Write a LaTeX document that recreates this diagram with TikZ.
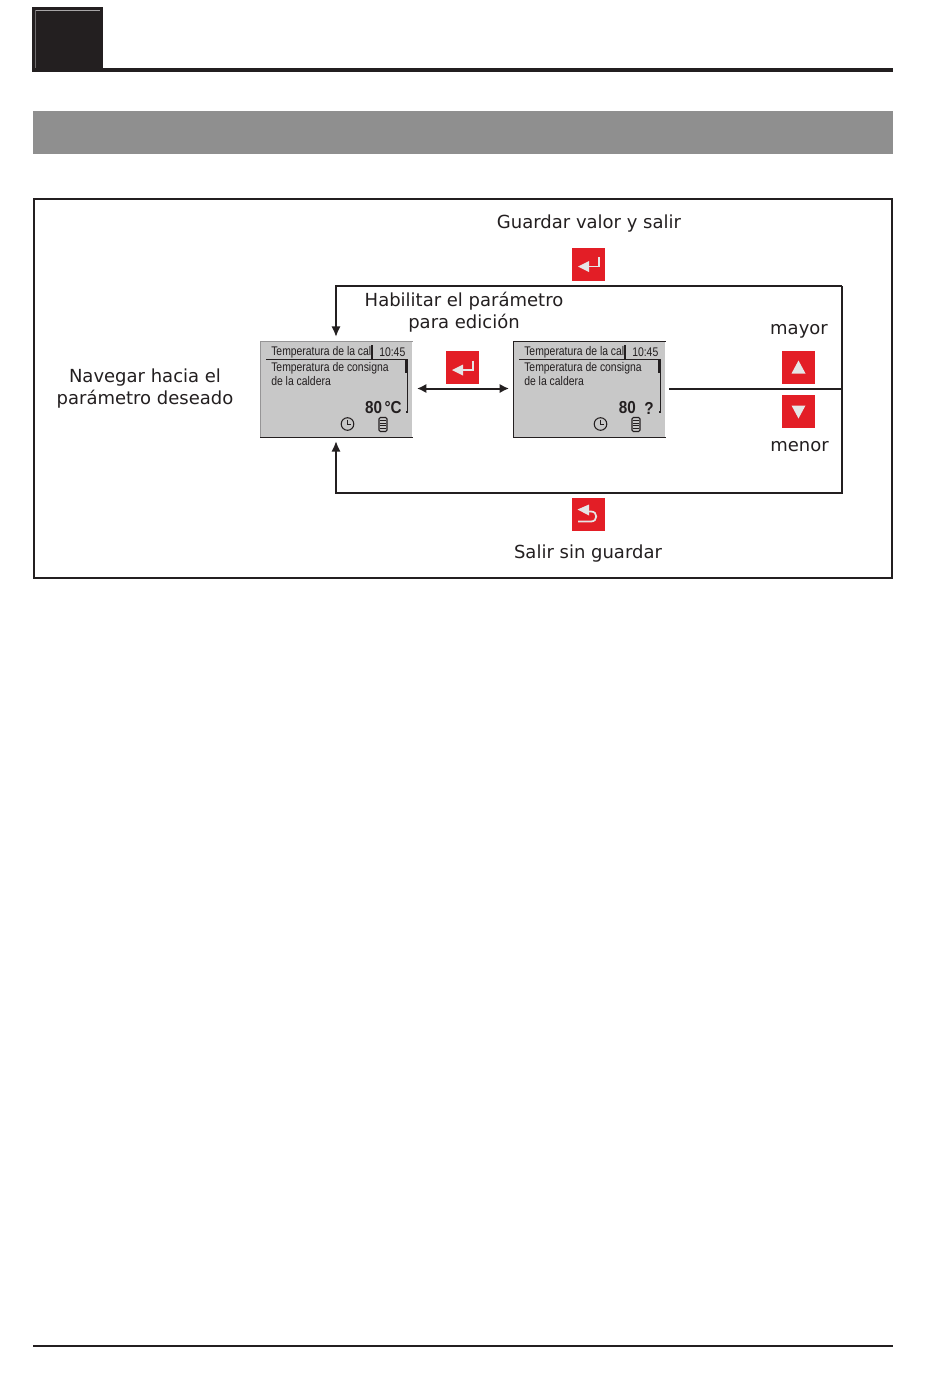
\documentclass[tikz,border=0pt]{standalone}
\usepackage{fontspec}
\setmainfont{DejaVu Sans}
\newfontfamily\lcdfont{Liberation Sans}
\usetikzlibrary{arrows.meta}
\definecolor{ink}{HTML}{231F20}
\definecolor{band}{HTML}{8F8F8F}
\definecolor{lcd}{HTML}{C8C8C8}
\definecolor{btn}{HTML}{E31E26}
\definecolor{glyph}{HTML}{E6E6E6}
\tikzset{
  lab/.style={font=\fontsize{13.5}{16.5}\selectfont, text=ink, align=center, inner sep=0pt},
  wire/.style={draw=ink, line width=1.5pt},
  arr/.style={wire, -{Latex[length=8pt,width=7pt]}},
  darr/.style={wire, {Latex[length=7pt,width=7pt]}-{Latex[length=7pt,width=7pt]}},
  keybox/.style={fill=btn, draw=none, minimum width=24.75pt, minimum height=24.75pt, inner sep=0pt},
  screenbox/.style={fill=lcd, draw=none, minimum width=114pt, minimum height=72pt, inner sep=0pt},
  lcdt/.style={font=\lcdfont\fontsize{9.4}{9.6}\selectfont, text=ink, inner sep=0pt, anchor=west, align=left},
  lcdv/.style={font=\lcdfont\bfseries\fontsize{13}{13}\selectfont, text=ink, inner sep=0pt, anchor=east},
  lcdline/.style={draw=ink, line width=0.7pt},
  gly/.style={fill=glyph, draw=none},
  glyl/.style={draw=glyph, line width=1.3pt},
}
% one LCD screen: #1 = node name, #2 = x of left edge, #3 = value drawing, #4 = edge colour
\newcommand{\lcdscreen}[4]{%
  \node[screenbox, anchor=north west] (#1) at (#2,341) {};
  \draw[draw=#4, line width=0.6pt] (#1.south west) -- (#1.north west) -- (#1.north east);
  \draw[draw=ink, line width=0.9pt] (#1.south west) -- (#1.south east);
  \node[lcdt] (#1t) at (#2+11,352) {\scalebox{0.83}[1]{Temperatura de la cal}};
  \node[lcdt] (#1c) at (#2+119,352) {\scalebox{0.83}[1]{10:45}};
  \draw[draw=ink, line width=1.1pt] (#2+112,345) -- (#2+112,359);
  \draw[lcdline] (#2+6,359.5) -- (#2+147,359.5) -- (#2+147,413);
  \draw[draw=ink, line width=2pt] (#2+146,360) -- (#2+146,373);
  \draw[draw=ink, line width=1pt] (#2+146,412) -- (#2+148,412);
  \node[lcdt] (#1a) at (#2+11,368.5) {\scalebox{0.83}[1]{Temperatura de consigna}};
  \node[lcdt] (#1b) at (#2+11,381.5) {\scalebox{0.83}[1]{de la caldera}};
  #3
  \draw[draw=ink, line width=0.8pt] (#2+87.5,424) circle[radius=6.3];
  \draw[draw=ink, line width=0.7pt] (#2+87.5,419.5) -- (#2+87.5,424.5) -- (#2+91,424.5);
  \draw[draw=ink, line width=0.8pt, rounded corners=1pt] (#2+119,417.5) rectangle (#2+127,431.5);
  \foreach \yy in {420.5,423,425.5,428} \draw[draw=ink, line width=0.6pt] (#2+120,\yy) -- (#2+126,\yy);
}
% enter key symbol, centred on node #1
\newcommand{\enterglyph}[1]{%
  \draw[glyl] ([xshift=10.5*0.75pt,yshift=7*0.75pt]#1.center) |- ([xshift=-3*0.75pt,yshift=-2.5*0.75pt]#1.center);
  \fill[gly] ([xshift=-10.5*0.75pt,yshift=-2.5*0.75pt]#1.center) -- ([xshift=0.5*0.75pt,yshift=3*0.75pt]#1.center) -- ([xshift=0.5*0.75pt,yshift=-8*0.75pt]#1.center) -- cycle;
}
\begin{document}
\begin{tikzpicture}[x=0.75pt,y=-0.75pt]
\useasboundingbox (0,0) rectangle (950,1378);
\fill[white] (0,0) rectangle (950,1378);

% header
\fill[ink] (32,7) rectangle (103,72);
\draw[draw=white!60!ink, line width=0.5pt] (35,10) -- (100,10);
\draw[draw=white!35!ink, line width=0.5pt] (35,10) -- (35,68);
\draw[draw=ink, line width=2.4pt] (102,70) -- (893,70);
% grey band
\fill[band] (33,111) rectangle (893,154);
% frame
\draw[draw=ink, line width=1.4pt] (34,199) rectangle (892,578);
% footer rule
\draw[draw=ink, line width=1.4pt] (33,1346) -- (893,1346);

% screens
\lcdscreen{scrA}{260}{%
  \node[lcdv] (scrAv) at (260+142,408) {\scalebox{0.88}[1]{80\,°C}};
}{lcd!70!ink}
\lcdscreen{scrB}{513}{%
  \node[lcdv] (scrBv) at (513+123,408) {\scalebox{0.88}[1]{80}};
  \node[lcdv] (scrBq) at (513+141,408) {\scalebox{0.88}[1]{?}};
}{ink}

% keys
\node[keybox] (kSave) at (588.5,264) {};
\node[keybox] (kEdit) at (462.5,367.5) {};
\node[keybox] (kUp) at (798.5,367.5) {};
\node[keybox] (kDown) at (798.5,411.5) {};
\node[keybox] (kEsc) at (588.5,514.5) {};

\enterglyph{kSave}
\enterglyph{kEdit}
\fill[gly] (791.5,373.5) -- (805.5,373.5) -- (798.5,360.5) -- cycle;
\fill[gly] (791.5,405.5) -- (805.5,405.5) -- (798.5,418.5) -- cycle;
% back key symbol
\draw[glyl] (585,511.5) -- (591,511.5) .. controls (598,511.5) and (598,521.5) .. (591,521.5) -- (578,521.5);
\fill[gly] (577.5,509.5) -- (589,504.5) -- (589,515.5) -- cycle;

% connector corners
\coordinate (cNE) at (842,286);
\coordinate (cSE) at (842,493);
\coordinate (cE) at (842,388.5);
\coordinate (aTop) at (336,286);
\coordinate (aBot) at (336,493);
\coordinate (s1T) at (336,337);
\coordinate (s1B) at (336,441);
\coordinate (dL) at (417,388.5);
\coordinate (dR) at (509,388.5);
\coordinate (s2E) at (669,388.5);

\draw[arr] (cNE) -- (aTop) -- (s1T);
\draw[arr] (cNE) -- (cSE) -- (aBot) -- (s1B);
\draw[wire] (s2E) -- (cE);
\draw[darr] (dL) -- (dR);

% labels
\node[lab] (tSave) at (589,224) {Guardar valor y salir};
\node[lab] (tEdit) at (464,312) {Habilitar el parámetro\\para edición};
\node[lab] (tNav) at (145,389) {Navegar hacia el\\parámetro deseado};
\node[lab] (tUp) at (799,331) {mayor};
\node[lab] (tDown) at (799.5,447) {menor};
\node[lab] (tEsc) at (588,554) {Salir sin guardar};
\end{tikzpicture}
\end{document}
